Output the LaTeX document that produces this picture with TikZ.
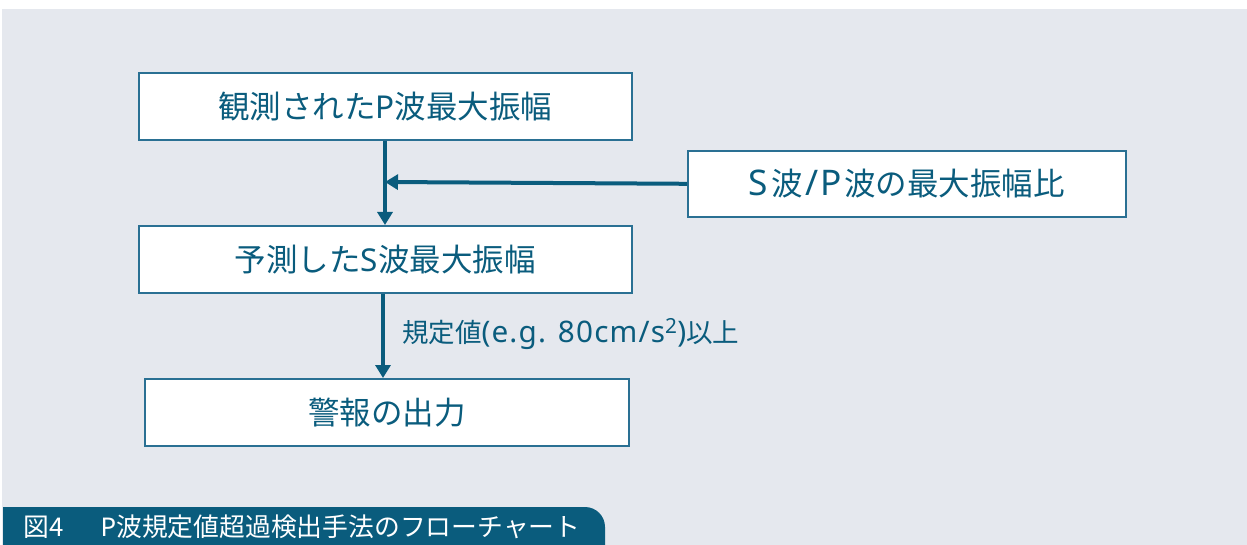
\documentclass[tikz,border=0pt]{standalone}
\usepackage{fontspec}
\setmainfont{Noto Sans CJK JP}
\newfontfamily\latinf{Noto Sans}
\newfontfamily\latinw[Scale=1.12,LetterSpace=4]{Noto Sans}
\usetikzlibrary{arrows.meta}
\definecolor{bg}{HTML}{E5E8EE}
\definecolor{teal}{HTML}{0A5C7D}
\definecolor{edge}{HTML}{2A7093}
\newcommand{\jl}{\hspace{0.09em}}
\tikzset{
  flowbox/.style={draw=edge, line width=1.6pt, fill=white, text=teal, font=\fontsize{31.5}{34}\selectfont, inner sep=0pt, anchor=north west},
  flowarrow/.style={draw=teal, line width=4pt, -{Triangle[width=15pt,length=13pt]}},
}
\begin{document}
\begin{tikzpicture}[x=1pt,y=-1pt]
\useasboundingbox (0,0) rectangle (1247,545);
\fill[white] (0,0) rectangle (1247,545);
\fill[bg] (2,9) rectangle (1247,545);
% boxes
\node[flowbox, minimum width=493pt, minimum height=67pt] (obs) at (138,72) {観測された{\latinf P}波最大振幅};
\node[flowbox, minimum width=493pt, minimum height=67pt] (pred) at (138,225) {予測した{\latinf S}波最大振幅};
\node[flowbox, minimum width=484pt, minimum height=67pt] (out) at (144,378) {警報の出力};
\node[flowbox, minimum width=438pt, minimum height=66pt] (ratio) at (687,150) {{\latinw S}\jl 波\jl{\latinw /P}\jl 波の最大振幅比};
% connectors
\coordinate (j) at (385,182);
\draw[flowarrow] (obs.south -| j) -- (pred.north -| j);
\draw[flowarrow] (ratio.west) -- (j);
\coordinate (k) at (383,292);
\draw[flowarrow] (pred.south -| k) -- node[right=17pt, text=teal, font=\fontsize{26.5}{30}\selectfont, pos=0.48, inner sep=0pt] (lab) {規定値{\latinw (e.g. 80cm/s\textsuperscript{2})}以上} (out.north -| k);
% caption tab
\fill[teal] (3,545) -- (3,507) -- (585,507) arc[start angle=-90, end angle=0, radius=20] -- (605,545) -- cycle;
\node[anchor=west, text=white, font=\fontsize{25.8}{30}\selectfont, inner sep=0pt] (cap) at (23,527) {図4\hspace{1.45em}{\latinf P}波規定値超過検出手法のフローチャート};
\end{tikzpicture}
\end{document}
